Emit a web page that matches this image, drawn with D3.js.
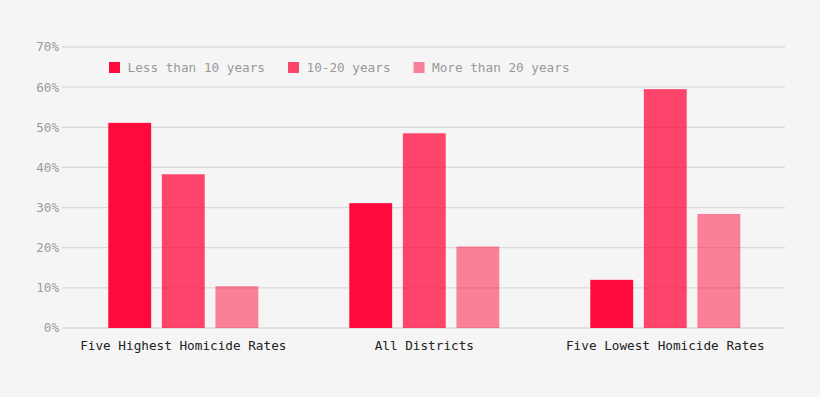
<!DOCTYPE html>
<html>
<head>
<meta charset="utf-8">
<script src="https://cdn.jsdelivr.net/npm/d3@7"></script>
<style>
  html, body { margin: 0; padding: 0; background: #f5f5f5; }
  svg { display: block; }
  text { font-family: "DejaVu Sans Mono", "Liberation Mono", monospace; }
</style>
</head>
<body>
<svg id="chart" width="820" height="397"></svg>
<script>
const categories = ["Five Highest Homicide Rates", "All Districts", "Five Lowest Homicide Rates"];
const seriesNames = ["Less than 10 years", "10-20 years", "More than 20 years"];
const lessThan10 = [51.1, 31.1, 12.0];
const tenTo20 = [38.3, 48.5, 59.5];
const moreThan20 = [10.4, 20.3, 28.4];
const yTicks = [0, 10, 20, 30, 40, 50, 60, 70];

const seriesValues = [lessThan10, tenTo20, moreThan20];
const colors = ["rgba(255,10,60,1)", "rgba(255,10,60,0.75)", "rgba(255,10,60,0.5)"];

const svg = d3.select("#chart");
svg.append("rect").attr("width", 820).attr("height", 397).attr("fill", "#f5f5f5");

const plotLeft = 62, plotRight = 785, plotTop = 47, plotBottom = 328;

const y = d3.scaleLinear().domain([0, 70]).range([plotBottom, plotTop]);
const x0 = d3.scaleBand().domain(categories).range([plotLeft, plotRight]).padding(0);
const x1 = d3.scaleBand().domain(seriesNames).range([46.3, 196.3]).paddingInner(0.2).paddingOuter(0);

// grid
const grid = svg.append("g");
grid.selectAll("line").data(yTicks).join("line")
  .attr("x1", plotLeft).attr("x2", plotRight)
  .attr("y1", d => y(d)).attr("y2", d => y(d))
  .attr("stroke", "#dadada").attr("stroke-width", 1.3);

// y tick labels
svg.append("g").selectAll("text").data(yTicks).join("text")
  .attr("x", plotLeft - 3).attr("y", d => y(d))
  .attr("dy", "0.35em")
  .attr("text-anchor", "end")
  .attr("fill", "#9a9a9a")
  .attr("font-size", "12.6px")
  .text(d => d + "%");

// bars
const groups = svg.append("g").selectAll("g").data(categories).join("g")
  .attr("transform", d => `translate(${x0(d)},0)`);
groups.selectAll("rect")
  .data((c, ci) => seriesNames.map((s, si) => ({ s, si, v: seriesValues[si][ci] })))
  .join("rect")
  .attr("x", d => x1(d.s))
  .attr("width", x1.bandwidth())
  .attr("y", d => y(d.v))
  .attr("height", d => y(0) - y(d.v))
  .attr("fill", d => colors[d.si]);

// category labels
svg.append("g").selectAll("text").data(categories).join("text")
  .attr("x", d => x0(d) + 121.3)
  .attr("y", 350)
  .attr("text-anchor", "middle")
  .attr("fill", "#222")
  .attr("font-size", "12.7px")
  .text(d => d);

// legend
const legend = svg.append("g");
let lx = 109;
seriesNames.forEach((name, i) => {
  legend.append("rect")
    .attr("x", lx).attr("y", 62).attr("width", 11).attr("height", 11)
    .attr("fill", colors[i]);
  const t = legend.append("text")
    .attr("x", lx + 18.5).attr("y", 72)
    .attr("fill", "#999")
    .attr("font-size", "12.7px")
    .text(name);
  lx = lx + 18.5 + t.node().getComputedTextLength() + 23;
});
</script>
</body>
</html>
